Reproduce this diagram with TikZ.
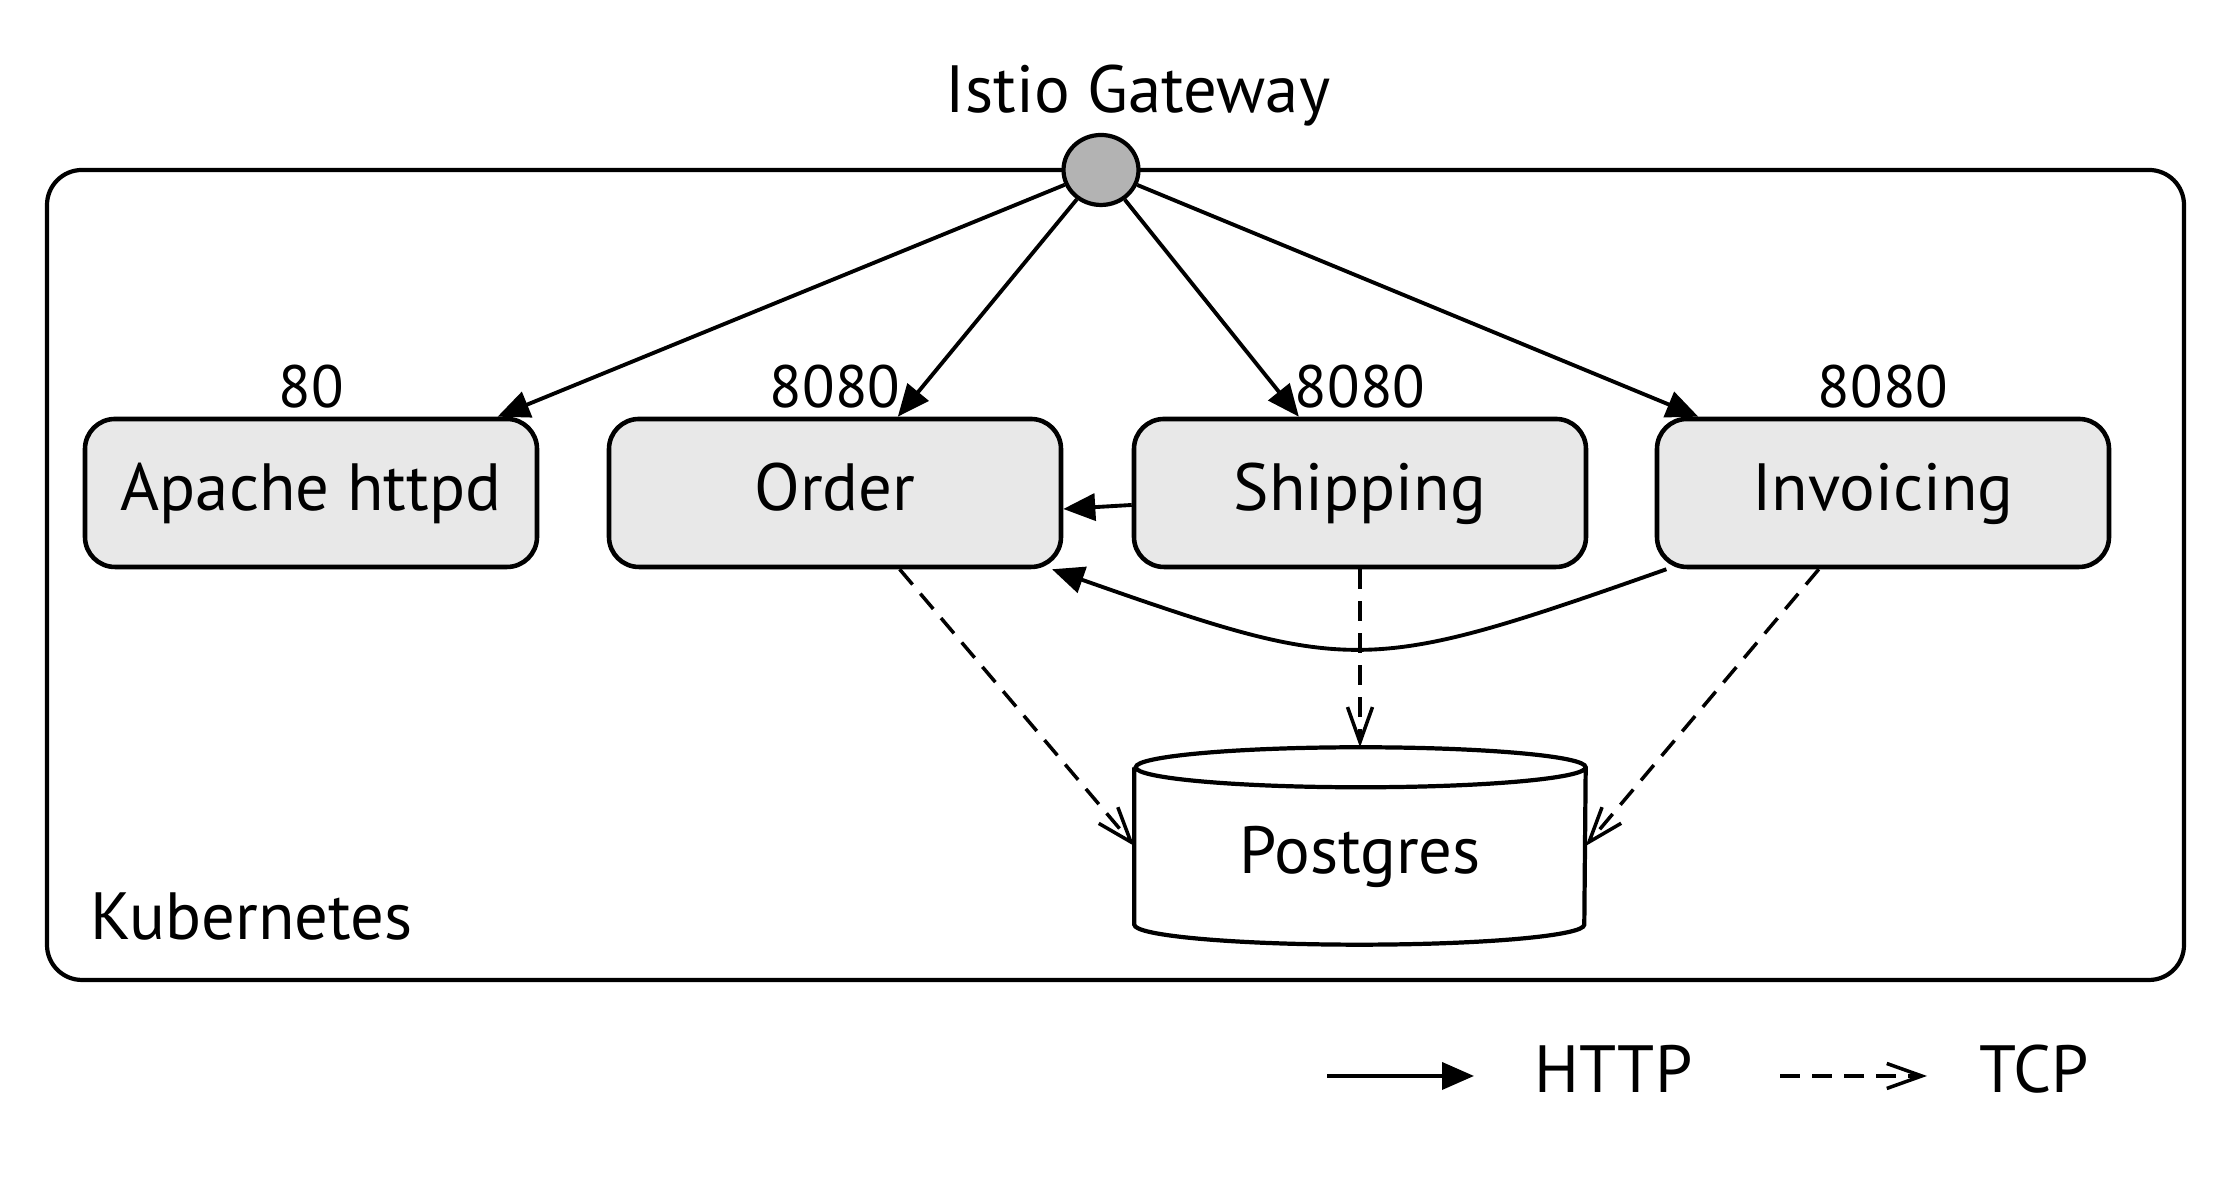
\documentclass[tikz,border=0pt]{standalone}
\usepackage{fontspec}
\setmainfont{PT Sans}
\usetikzlibrary{arrows.meta, positioning, shapes.geometric}
\definecolor{gwgray}{RGB}{179,179,179}
\definecolor{svcgray}{RGB}{232,232,232}

\begin{document}
\begin{tikzpicture}[font=\fontsize{19}{22}\selectfont,
  svc/.style={draw, line width=1.3pt, fill=svcgray, rounded corners=0.3cm, minimum width=4.52cm, minimum height=1.48cm, text height=0.55cm, text depth=0.2cm},
  txt/.style={inner sep=0pt},
  portlbl/.style={inner sep=0pt, font=\fontsize{17}{20}\selectfont},
  http/.style={-{Triangle[length=0.32cm, width=0.27cm]}, line width=1.1pt},
  tcp/.style={-{Straight Barb[length=0.35cm, width=0.25cm]}, line width=1pt, dash pattern=on 0.2cm off 0.12cm}]
  \useasboundingbox (0,0) rectangle (22.33,11.79);

  % cluster
  \draw[line width=1.2pt, rounded corners=0.35cm] (0.47,1.99) rectangle (21.84,10.09);
  \node[txt, anchor=base west] (k8s) at (0.90,2.39) {Kubernetes};

  % gateway
  \node[draw, ellipse, line width=1.2pt, fill=gwgray, minimum width=0.75cm, minimum height=0.7cm, inner sep=0pt] (gw) at (11.01,10.09) {};
  \node[txt, anchor=base] (gwlbl) at (11.38,10.66) {Istio Gateway};

  % services
  \node[svc] (apache) at (3.11,6.86) {Apache httpd};
  \node[svc] (order) at (8.35,6.86) {Order};
  \node[svc] (shipping) at (13.60,6.86) {Shipping};
  \node[svc] (invoicing) at (18.83,6.86) {Invoicing};

  \node[portlbl, above=0.08cm of apache] (p80) {80};
  \node[portlbl, above=0.08cm of order] (porder) {8080};
  \node[portlbl, above=0.08cm of shipping] (pshipping) {8080};
  \node[portlbl, above=0.08cm of invoicing] (pinvoicing) {8080};

  % database
  \node[minimum width=4.5cm, minimum height=1.96cm, text height=0.75cm, text depth=0.2cm] (postgres) at (13.60,3.33) {Postgres};
  \draw[line width=1.2pt] ([yshift=-0.2cm]postgres.north west) -- ([yshift=0.2cm]postgres.south west)
    arc[start angle=180, end angle=360, x radius=2.25cm, y radius=0.2cm]
    -- ([yshift=-0.2cm]postgres.north east)
    arc[start angle=0, end angle=360, x radius=2.25cm, y radius=0.2cm];

  \draw[http] (gw) -- (apache);
  \draw[http] (gw) -- (order);
  \draw[http] (gw) -- (shipping);
  \draw[http] (gw) -- (invoicing);
  \draw[http] ([yshift=-0.12cm]shipping.west) -- ([yshift=-0.16cm]order.east);
  \draw[http] (invoicing) .. controls (13.66,5.04) and (13.53,5.04) .. (order);

  \draw[tcp] (order) -- (postgres.west);
  \draw[tcp] (shipping) -- (postgres.north);
  \draw[tcp] (invoicing) -- (postgres.east);

  % legend
  \coordinate (httpA) at (13.27,1.03);
  \coordinate (httpB) at (14.74,1.03);
  \draw[http] (httpA) -- (httpB);
  \node[txt, anchor=base west] (httplbl) at (15.34,0.86) {HTTP};
  \coordinate (tcpA) at (17.80,1.03);
  \coordinate (tcpB) at (19.27,1.03);
  \draw[tcp] (tcpA) -- (tcpB);
  \node[txt, anchor=base west] (tcplbl) at (19.79,0.86) {TCP};
\end{tikzpicture}
\end{document}
